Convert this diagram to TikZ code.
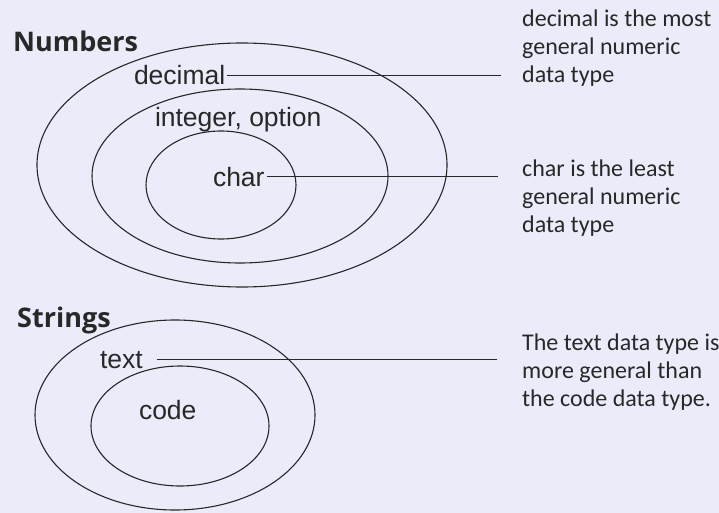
\documentclass[tikz,border=0pt]{standalone}
\usepackage{fontspec}
\setmainfont{Carlito}
\newfontfamily\labelfont{Liberation Sans}
\newfontfamily\headfont{Open Sans}
\definecolor{paper}{RGB}{234,236,250}
\definecolor{ink}{RGB}{40,40,40}

\begin{document}
\begin{tikzpicture}[x=1pt,y=-1pt,
  ring/.style={draw=ink,line width=1.1pt},
  lbl/.style={anchor=base west,inner sep=2pt,outer sep=0pt,text=ink,font=\labelfont\fontsize{26.5}{30}\selectfont},
  head/.style={anchor=base west,inner sep=0pt,text=ink,font=\headfont\bfseries\fontsize{27}{30}\selectfont},
  note/.style={anchor=north west,inner sep=0pt,align=left,text=ink,font=\fontsize{24}{28}\selectfont},
  lead/.style={draw=ink,line width=1pt}]
\fill[paper] (0,0) rectangle (719,513);
\useasboundingbox (0,0) rectangle (719,513);
% numbers
\node[head] (numbers) at (13,52) {Numbers};
\draw[ring] (242,165) ellipse (205 and 122);
\draw[ring] (240,176) ellipse (148 and 87);
\draw[ring] (221,185) ellipse (75 and 54);
\node[lbl] (decimal) at (132,85) {decimal};
\node[lbl] (intopt) at (153,127) {integer, option};
\node[lbl] (char) at (211,186) {char};
\coordinate (decend) at (501,76);
\coordinate (charend) at (498,183);
\draw[lead] (decimal.east) -- (decimal.east -| decend);
\draw[lead] (char.east) -- (char.east -| charend);
\node[note] (decnote) at (522,10) {decimal is the most\\general numeric\\data type};
\node[note] (charnote) at (522,160) {char is the least\\general numeric\\data type};
% strings
\node[head] (strings) at (17,327) {Strings};
\draw[ring] (175,415) ellipse (140 and 95);
\draw[ring] (180,426) ellipse (89 and 60);
\node[lbl] (text) at (98,368) {text};
\node[lbl] (code) at (137,419) {code};
\coordinate (textend) at (497,358);
\draw[lead,shorten <=12pt] (text.east) -- (text.east -| textend);
\node[note] (textnote) at (522,334) {The text data type is\\more general than\\the code data type.};
\end{tikzpicture}
\end{document}
